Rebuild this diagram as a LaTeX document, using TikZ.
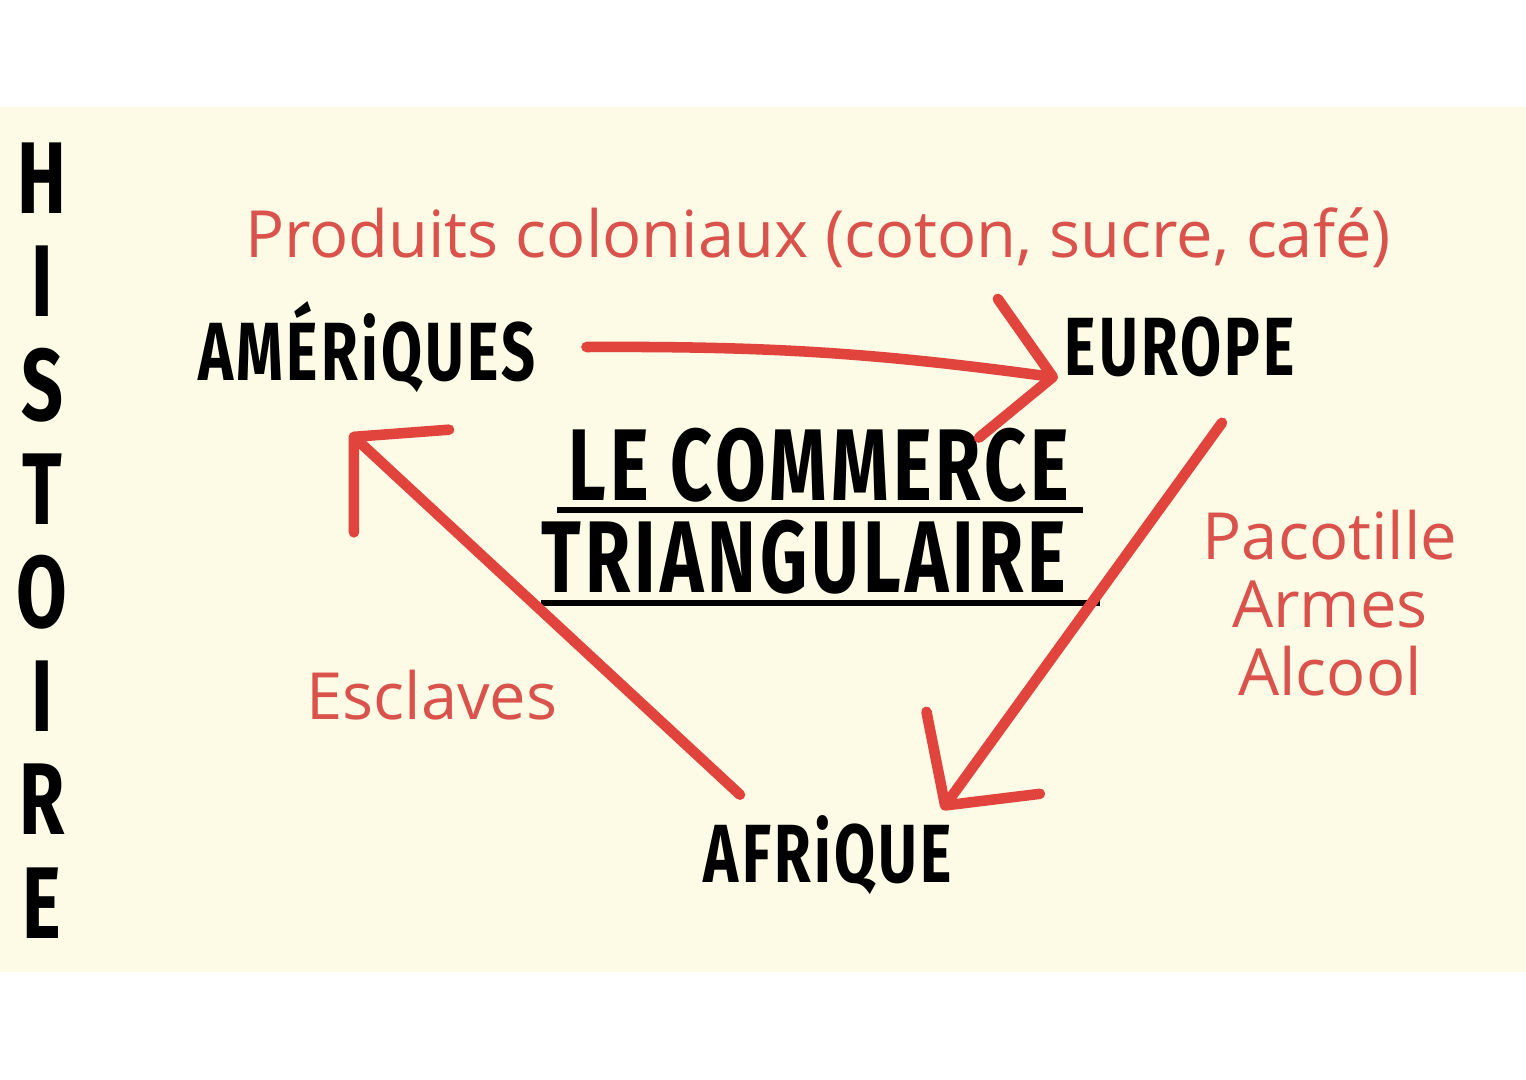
\documentclass[tikz,border=0pt]{standalone}
\usepackage{fontspec}
\usetikzlibrary{arrows.meta}
\newfontfamily\mainfonte[FakeStretch=0.72, LetterSpace=4]{Fira Sans}
\newfontfamily\titrefonte[FakeStretch=0.72, LetterSpace=4]{Fira Sans}
\newfontfamily\fontrouge{Open Sans}
\definecolor{creme}{HTML}{FDFAE6}
\definecolor{rouge}{HTML}{E0443C}
\definecolor{texterouge}{HTML}{D9534C}
\tikzset{
    lieu/.style={inner sep=0pt, font=\mainfonte\bfseries\fontsize{23.5}{26}\selectfont},
    titre/.style={inner sep=0pt, font=\titrefonte\bfseries\fontsize{29}{32}\selectfont},
    lettre/.style={inner sep=0pt, font=\mainfonte\bfseries\fontsize{29}{32}\selectfont},
    marchandise/.style={inner sep=0pt, text=texterouge, align=center, font=\fontrouge\fontsize{18.5}{19.4}\selectfont},
    fleche/.style={draw=rouge, line width=3pt, line cap=round, -{Straight Barb[length=6.5mm, width=14mm, round]}},
    souligne/.style={line width=1.7pt}
}
\begin{document}
\begin{tikzpicture}

        \useasboundingbox (0, 0) rectangle (15.26, -10.8);
        \fill[creme] (0, -1.07) rectangle (15.26, -9.72);

        \foreach \l [count=\i] in {H, I, S, T, O, I, R, E}
            {
                \node[name=h\i, lettre] at (0.42, -1.78 - 1.036*\i + 1.036) {\l};
            }

        \node[name=amer, lieu] at (3.67, -3.47) {AMÉRiQUES};
        \node[name=europe, lieu] at (11.80, -3.47) {EUROPE};
        \node[name=afr, lieu] at (8.28, -8.55) {AFRiQUE};

        \node[name=t1, titre] at (8.19, -4.65) {LE COMMERCE};
        \node[name=t2, titre] at (8.04, -5.57) {TRIANGULAIRE};
        \draw[souligne] (5.57, -5.10) -- (10.83, -5.10);
        \draw[souligne] (5.41, -6.03) -- (11.00, -6.03);

        \node[name=produits, marchandise] at (8.18, -2.38) {Produits coloniaux (coton, sucre, café)};
        \node[name=pacotille, marchandise] at (13.30, -6.03) {Pacotille\\Armes\\Alcool};
        \node[name=esclaves, marchandise] at (4.32, -6.95) {Esclaves};

        \draw[fleche] ([xshift=0.5cm]amer.east) to[bend left=4] ([xshift=-0.06cm]europe.south west);
        \draw[fleche] ([shift={(0.42,-0.45)}]europe.south) -- ([shift={(1.14,0.05)}]afr.north);
        \draw[fleche] ([shift={(-0.88,0.2)}]afr.north) -- ([shift={(-0.17,-0.4)}]amer.south);
    \end{tikzpicture}
\end{document}
